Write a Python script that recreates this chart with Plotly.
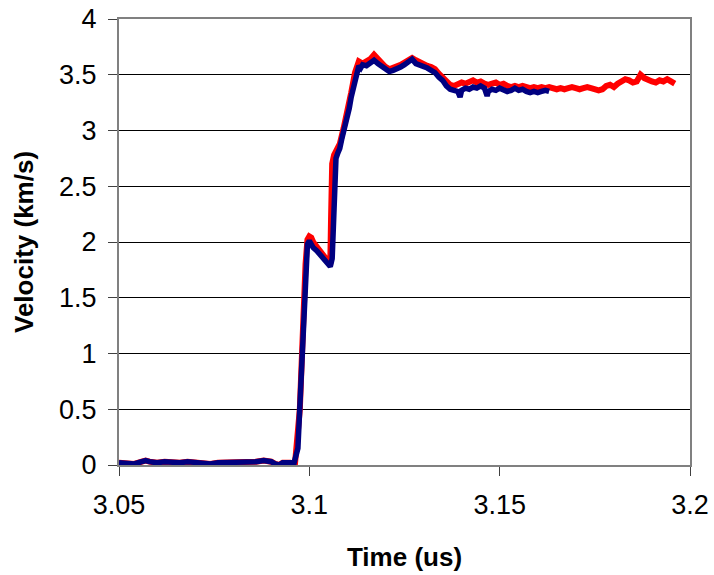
import plotly.graph_objects as go

# Blue series (shorter record)
blue_t = [3.050, 3.052, 3.054, 3.056, 3.057, 3.058, 3.060, 3.062, 3.064, 3.066,
          3.068, 3.070, 3.072, 3.074, 3.076, 3.078, 3.080, 3.082, 3.084, 3.086,
          3.088, 3.090, 3.091, 3.092, 3.093, 3.095, 3.0960, 3.0970, 3.0985, 3.0995,
          3.1000, 3.1005, 3.1010, 3.1020, 3.1030, 3.1040, 3.1050, 3.1055, 3.1060, 3.1065,
          3.1070, 3.1075, 3.1080, 3.1085, 3.1090, 3.1095, 3.1100, 3.1105, 3.1110, 3.1115,
          3.1120, 3.1125, 3.1130, 3.1135, 3.1140, 3.1150, 3.1160, 3.1170, 3.1180, 3.1190,
          3.1200, 3.1210, 3.1220, 3.1230, 3.1240, 3.1250, 3.1260, 3.1270, 3.1280, 3.1290,
          3.1300, 3.1310, 3.1320, 3.1330, 3.1340, 3.1350, 3.1360, 3.1370, 3.1380, 3.1390,
          3.1396, 3.1400, 3.1410, 3.1420, 3.1430, 3.1440, 3.1450, 3.1460, 3.1467, 3.1470,
          3.1480, 3.1490, 3.1500, 3.1510, 3.1520, 3.1530, 3.1540, 3.1550, 3.1560, 3.1570,
          3.1580, 3.1590, 3.1600, 3.1610, 3.1620, 3.1630]
blue_v = [0.02, 0.02, 0.01, 0.03, 0.04, 0.03, 0.02, 0.03, 0.02, 0.02,
          0.03, 0.02, 0.02, 0.01, 0.02, 0.02, 0.03, 0.02, 0.03, 0.03,
          0.04, 0.03, 0.01, 0.00, 0.02, 0.02, 0.02, 0.15, 1.20, 1.98,
          2.01, 1.98, 1.95, 1.92, 1.88, 1.84, 1.80, 1.78, 1.85, 2.40,
          2.75, 2.80, 2.84, 2.92, 2.98, 3.05, 3.12, 3.20, 3.30, 3.38,
          3.46, 3.55, 3.58, 3.56, 3.59, 3.58, 3.60, 3.63, 3.60, 3.58,
          3.56, 3.53, 3.54, 3.55, 3.57, 3.59, 3.61, 3.64, 3.60, 3.59,
          3.57, 3.56, 3.54, 3.52, 3.48, 3.45, 3.40, 3.37, 3.36, 3.35,
          3.30, 3.36, 3.38, 3.37, 3.39, 3.38, 3.40, 3.38, 3.31, 3.35,
          3.37, 3.36, 3.38, 3.37, 3.35, 3.36, 3.38, 3.36, 3.37, 3.35,
          3.34, 3.35, 3.34, 3.35, 3.36, 3.35]

# Red series (longer record)
red_t = [3.050, 3.052, 3.054, 3.056, 3.057, 3.058, 3.060, 3.062, 3.064, 3.066,
         3.068, 3.070, 3.072, 3.074, 3.076, 3.078, 3.080, 3.082, 3.084, 3.086,
         3.088, 3.090, 3.091, 3.092, 3.093, 3.095, 3.0962, 3.0975, 3.0990, 3.0995,
         3.1000, 3.1005, 3.1010, 3.1020, 3.1030, 3.1040, 3.1050, 3.1055, 3.1057, 3.1060,
         3.1065, 3.1070, 3.1080, 3.1090, 3.1100, 3.1110, 3.1120, 3.1125, 3.1130, 3.1140,
         3.1150, 3.1160, 3.1170, 3.1180, 3.1190, 3.1200, 3.1210, 3.1220, 3.1230, 3.1240,
         3.1250, 3.1260, 3.1270, 3.1280, 3.1290, 3.1300, 3.1310, 3.1320, 3.1330, 3.1340,
         3.1350, 3.1360, 3.1370, 3.1380, 3.1390, 3.1400, 3.1410, 3.1420, 3.1430, 3.1440,
         3.1450, 3.1460, 3.1470, 3.1480, 3.1490, 3.1500, 3.1510, 3.1520, 3.1530, 3.1540,
         3.1550, 3.1560, 3.1570, 3.1580, 3.1590, 3.1600, 3.1610, 3.1620, 3.1630, 3.1640,
         3.1650, 3.1660, 3.1670, 3.1680, 3.1690, 3.1700, 3.1710, 3.1720, 3.1730, 3.1740,
         3.1750, 3.1760, 3.1770, 3.1780, 3.1790, 3.1800, 3.1810, 3.1820, 3.1830, 3.1840,
         3.1850, 3.1860, 3.1870, 3.1880, 3.1890, 3.1900, 3.1910, 3.1920, 3.1930, 3.1940,
         3.1950, 3.1960]
red_v = [0.02, 0.02, 0.01, 0.03, 0.04, 0.03, 0.02, 0.03, 0.02, 0.02,
         0.03, 0.02, 0.02, 0.01, 0.02, 0.02, 0.03, 0.02, 0.03, 0.03,
         0.04, 0.03, 0.01, 0.00, 0.02, 0.02, 0.00, 0.50, 1.80, 2.02,
         2.05, 2.04, 2.00, 1.96, 1.91, 1.87, 1.82, 1.80, 2.20, 2.70,
         2.78, 2.82, 2.88, 3.02, 3.16, 3.34, 3.52, 3.60, 3.62, 3.60,
         3.62, 3.64, 3.68, 3.64, 3.60, 3.57, 3.55, 3.56, 3.57, 3.59,
         3.61, 3.63, 3.65, 3.63, 3.61, 3.60, 3.58, 3.57, 3.55, 3.51,
         3.48, 3.44, 3.41, 3.40, 3.41, 3.43, 3.42, 3.44, 3.45, 3.43,
         3.44, 3.42, 3.41, 3.42, 3.43, 3.41, 3.42, 3.40, 3.39, 3.40,
         3.39, 3.40, 3.39, 3.38, 3.39, 3.38, 3.39, 3.38, 3.39, 3.38,
         3.37, 3.38, 3.37, 3.38, 3.39, 3.38, 3.37, 3.38, 3.39, 3.38,
         3.37, 3.36, 3.37, 3.40, 3.41, 3.39, 3.42, 3.44, 3.46, 3.45,
         3.43, 3.44, 3.50, 3.47, 3.45, 3.44, 3.43, 3.45, 3.44, 3.46,
         3.44, 3.42]

x_ticks = [3.05, 3.1, 3.15, 3.2]
x_labels = ["3.05", "3.1", "3.15", "3.2"]
y_ticks = [0, 0.5, 1, 1.5, 2, 2.5, 3, 3.5, 4]
y_labels = ["0", "0.5", "1", "1.5", "2", "2.5", "3", "3.5", "4"]

fig = go.Figure()
fig.add_trace(go.Scatter(x=red_t, y=red_v, mode="lines",
                         line=dict(color="#ff0000", width=6), showlegend=False))
fig.add_trace(go.Scatter(x=blue_t, y=blue_v, mode="lines",
                         line=dict(color="#000080", width=5.5), showlegend=False))

font = "Liberation Sans, Arial, sans-serif"
fig.update_layout(
    width=714, height=575,
    margin=dict(l=119, r=24, t=19, b=110),
    paper_bgcolor="white", plot_bgcolor="white",
    font=dict(family=font, color="black", size=27),
    xaxis=dict(range=[3.05, 3.2], tickvals=x_ticks, ticktext=x_labels,
               showgrid=False, zeroline=False, automargin=False,
               showline=True, linecolor="#808080", linewidth=2, mirror=True,
               ticks="outside", ticklen=9, tickcolor="#404040", tickwidth=1,
               ticklabelstandoff=6, ticklabeloverflow="allow",
               tickfont=dict(size=27, family=font),
               title=dict(text="<b>Time (us)</b>", font=dict(size=26, family=font), standoff=28)),
    yaxis=dict(range=[0, 4], tickvals=y_ticks, ticktext=y_labels,
               showgrid=True, gridcolor="black", gridwidth=1, zeroline=False, automargin=False,
               showline=True, linecolor="#808080", linewidth=2, mirror=True,
               ticks="outside", ticklen=9, tickcolor="#404040", tickwidth=1,
               ticklabelstandoff=6, ticklabeloverflow="allow",
               tickfont=dict(size=27, family=font),
               title=dict(text="<b>Velocity (km/s)</b>", font=dict(size=26, family=font), standoff=18)),
)

fig.write_html("out.html", config={"displayModeBar": False, "staticPlot": True},
               post_script="document.body.style.margin='0';document.body.style.overflow='hidden';")
